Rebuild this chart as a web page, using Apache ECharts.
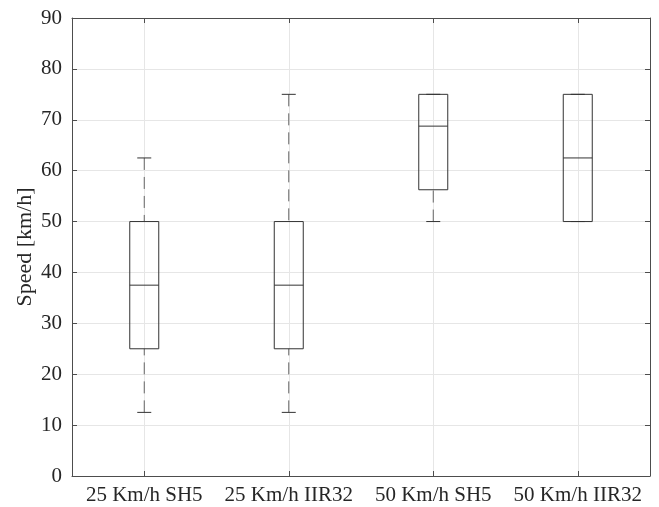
<!DOCTYPE html>
<html>
<head>
<meta charset="utf-8">
<script src="https://cdn.jsdelivr.net/npm/echarts@6/dist/echarts.min.js"></script>
<style>
  html, body { margin: 0; padding: 0; background: #fff; }
  #chart { width: 659px; height: 507px; }
</style>
</head>
<body>
<div id="chart"></div>
<script>
// categories and five-number summaries
const categories = ['25 Km/h SH5', '25 Km/h IIR32', '50 Km/h SH5', '50 Km/h IIR32']
const whiskerLow = [12.5, 12.5, 50, 50]
const q1 = [25, 25, 56.25, 50]
const median = [37.5, 37.5, 68.75, 62.5]
const q3 = [50, 50, 75, 75]
const whiskerHigh = [62.5, 75, 75, 75]
const yTicks = [0, 10, 20, 30, 40, 50, 60, 70, 80, 90]

const font = 'Liberation Serif'
const textColor = '#262626'
const axisColor = '#4d4d4d'
const gridColor = '#e6e6e6'

const boxData = categories.map((c, i) => [i, whiskerLow[i], q1[i], median[i], q3[i], whiskerHigh[i]])

function renderBox(params, api) {
  const x = api.value(0)
  const pLow = api.coord([x, api.value(1)])
  const pQ1 = api.coord([x, api.value(2)])
  const pMed = api.coord([x, api.value(3)])
  const pQ3 = api.coord([x, api.value(4)])
  const pHigh = api.coord([x, api.value(5)])
  const half = 14.5
  const cap = 7
  const cx = pQ1[0]
  const solid = { stroke: '#333', lineWidth: 1, fill: null }
  const dashed = { stroke: '#666', lineWidth: 1, lineDash: [12, 7] }
  const children = []
  if (pHigh[1] < pQ3[1] - 1) {
    children.push({ type: 'line', shape: { x1: cx, y1: pHigh[1], x2: cx, y2: pQ3[1] }, style: dashed })
  }
  if (pLow[1] > pQ1[1] + 1) {
    children.push({ type: 'line', shape: { x1: cx, y1: pLow[1], x2: cx, y2: pQ1[1] }, style: dashed })
  }
  children.push({ type: 'line', shape: { x1: cx - cap, y1: pHigh[1], x2: cx + cap, y2: pHigh[1] }, style: solid })
  children.push({ type: 'line', shape: { x1: cx - cap, y1: pLow[1], x2: cx + cap, y2: pLow[1] }, style: solid })
  children.push({
    type: 'rect',
    shape: { x: cx - half, y: pQ3[1], width: half * 2, height: pQ1[1] - pQ3[1] },
    style: solid
  })
  children.push({ type: 'line', shape: { x1: cx - half, y1: pMed[1], x2: cx + half, y2: pMed[1] }, style: solid })
  return { type: 'group', children }
}

const chart = echarts.init(document.getElementById('chart'))
chart.setOption({
  animation: false,
  textStyle: { fontFamily: font },
  grid: { left: 72, right: 9, top: 18, bottom: 31 },
  xAxis: [
    {
      type: 'category',
      data: categories,
      boundaryGap: true,
      axisLine: { show: true, lineStyle: { color: axisColor } },
      axisTick: { show: true, inside: true, interval: 0, alignWithLabel: true, length: 5, lineStyle: { color: axisColor } },
      axisLabel: { color: textColor, fontSize: 21, fontFamily: font, margin: 9, interval: 0, hideOverlap: false },
      splitLine: { show: true, interval: 0, alignWithLabel: true, lineStyle: { color: gridColor } }
    },
    {
      type: 'category',
      data: categories,
      position: 'top',
      boundaryGap: true,
      axisLine: { show: true, onZero: false, lineStyle: { color: axisColor } },
      axisTick: { show: true, inside: true, interval: 0, alignWithLabel: true, length: 5, lineStyle: { color: axisColor } },
      axisLabel: { show: false },
      splitLine: { show: false }
    }
  ],
  yAxis: [
    {
      type: 'value',
      min: yTicks[0],
      max: yTicks[yTicks.length - 1],
      interval: 10,
      name: 'Speed [km/h]',
      nameLocation: 'middle',
      nameGap: 36,
      nameMoveOverlap: false,
      nameTextStyle: { color: textColor, fontSize: 22, fontFamily: font },
      axisLine: { show: true, lineStyle: { color: axisColor } },
      axisTick: { show: true, inside: true, length: 5, lineStyle: { color: axisColor } },
      axisLabel: { color: textColor, fontSize: 21, fontFamily: font, margin: 10 },
      splitLine: { show: true, lineStyle: { color: gridColor } }
    },
    {
      type: 'value',
      position: 'right',
      min: yTicks[0],
      max: yTicks[yTicks.length - 1],
      interval: 10,
      axisLine: { show: true, onZero: false, lineStyle: { color: axisColor } },
      axisTick: { show: true, inside: true, length: 5, lineStyle: { color: axisColor } },
      axisLabel: { show: false },
      splitLine: { show: false }
    }
  ],
  series: [
    {
      type: 'custom',
      xAxisIndex: 0,
      yAxisIndex: 0,
      renderItem: renderBox,
      encode: { x: 0, y: [1, 2, 3, 4, 5] },
      data: boxData,
      z: 5
    }
  ]
})
</script>
</body>
</html>
